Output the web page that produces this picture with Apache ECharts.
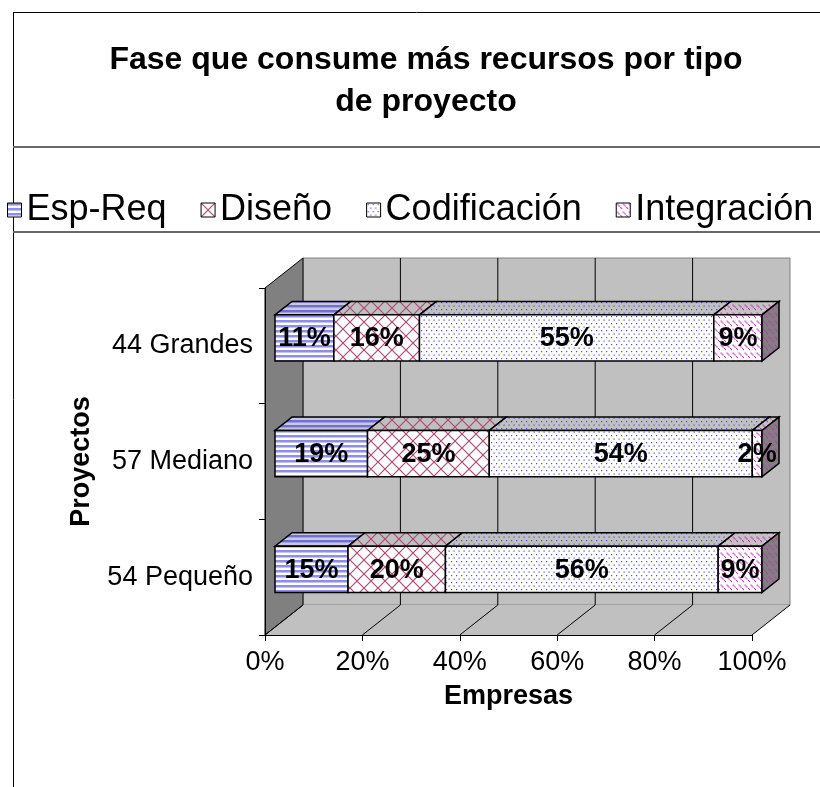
<!DOCTYPE html>
<html lang="es">
<head>
<meta charset="UTF-8">
<title>Fase que consume más recursos por tipo de proyecto</title>
<script src="https://cdn.jsdelivr.net/npm/echarts@6/dist/echarts.min.js"></script>
<style>
    html, body { margin: 0; padding: 0; background: #fff; }
    #chart { width: 820px; height: 787px; }
</style>
</head>
<body>
<div id="chart"></div>
<script>
// datos (orden de abajo hacia arriba)
var categories = ['54 Pequeño', '57 Mediano', '44 Grandes'];
var phases = ['Esp-Req', 'Diseño', 'Codificación', 'Integración'];
var espReq = [15, 19, 11];
var diseno = [20, 25, 16];
var codificacion = [56, 54, 55];
var integracion = [9, 2, 9];
var xTicks = [0, 20, 40, 60, 80, 100];

var FONT = '"Liberation Sans", Arial, sans-serif';
// profundidad 3D (px) y posicion de la barra dentro de ella
var DX = 38, DY = -30;
var BAR_FRONT = 10 / 38, BAR_BACK = 27 / 38;
var BAR_RATIO = 0.4;

function pattern(w, h, bg, draw) {
    var c = document.createElement('canvas');
    c.width = w; c.height = h;
    var ctx = c.getContext('2d');
    ctx.fillStyle = bg;
    ctx.fillRect(0, 0, w, h);
    draw(ctx, w, h);
    return { image: c, repeat: 'repeat' };
}

function stripes(col, col2) {
    return function (ctx, w) {
        ctx.fillStyle = col; ctx.fillRect(0, 0, w, 2);
        ctx.fillStyle = col2; ctx.fillRect(0, 2, w, 1);
    };
}
function lattice(col) {
    return function (ctx, w, h) {
        ctx.strokeStyle = col; ctx.lineWidth = 1.2;
        ctx.beginPath();
        ctx.moveTo(-1, -1); ctx.lineTo(w + 1, h + 1);
        ctx.moveTo(w + 1, -1); ctx.lineTo(-1, h + 1);
        ctx.stroke();
    };
}
function dots(col) {
    return function (ctx) {
        ctx.fillStyle = col;
        [[1, 1], [6, 1], [3.5, 4.5], [8.5, 4.5]].forEach(function (p) { ctx.fillRect(p[0], p[1], 1.2, 1.2); });
    };
}
function dashes(col) {
    return function (ctx) {
        ctx.fillStyle = col;
        for (var i = 0; i < 3; i++) {
            ctx.fillRect(i + 0.5, i + 0.5, 1.2, 1.2);
            ctx.fillRect(4 + i, i + 4, 1.2, 1.2);
        }
    };
}

var fills = [
    { front: pattern(4, 5, '#ffffff', stripes('#8e8ee8', '#c2c2f5')),
      top: pattern(4, 5, '#c8c8e0', stripes('#7070d0', '#a0a0e0')),
      side: pattern(4, 5, '#808080', stripes('#6060b0', '#8080c0')) },
    { front: pattern(14, 14, '#ffffff', lattice('#ad4a76')),
      top: pattern(14, 14, '#c0c0c0', lattice('#ad4a76')),
      side: pattern(14, 14, '#808080', lattice('#ad4a76')) },
    { front: pattern(10, 7, '#ffffff', dots('#5050c8')),
      top: pattern(10, 7, '#c0c0c0', dots('#5050c8')),
      side: pattern(10, 7, '#808080', dots('#5050c8')) },
    { front: pattern(6, 8, '#ffffff', dashes('#b23cb2')),
      top: pattern(6, 8, '#c4c4c4', dashes('#b23cb2')),
      side: pattern(6, 8, '#808080', dashes('#b23cb2')) }
];

// apilado al 100%
var raw = [espReq, diseno, codificacion, integracion];
var totals = categories.map(function (c, i) {
    return raw.reduce(function (s, arr) { return s + arr[i]; }, 0);
});
var stacked = raw.map(function () { return []; });
categories.forEach(function (c, i) {
    var acc = 0;
    raw.forEach(function (arr, k) {
        var start = acc;
        acc += arr[i] / totals[i] * 100;
        stacked[k].push([start, acc, i, arr[i]]);
    });
});

function barRenderer(k) {
    return function (params, api) {
        var cat = api.value(2);
        var a = api.coord([api.value(0), cat]);
        var b = api.coord([api.value(1), cat]);
        var h = api.size([0, 1])[1] * BAR_RATIO;
        var fx = DX * BAR_FRONT, fy = DY * BAR_FRONT;
        var ox = DX * (BAR_BACK - BAR_FRONT), oy = DY * (BAR_BACK - BAR_FRONT);
        var x0 = a[0] + fx, x1 = b[0] + fx;
        var yt = a[1] + fy - h / 2, yb = yt + h;
        var stroke = { stroke: '#000', lineWidth: 1.5 };
        var children = [
            { type: 'polygon', shape: { points: [[x0, yt], [x1, yt], [x1 + ox, yt + oy], [x0 + ox, yt + oy]] },
              style: Object.assign({ fill: fills[k].top }, stroke) },
            { type: 'rect', shape: { x: x0, y: yt, width: x1 - x0, height: h },
              style: Object.assign({ fill: fills[k].front }, stroke) }
        ];
        if (api.value(1) > 99.99) {
            children.push({ type: 'polygon',
                shape: { points: [[x1, yt], [x1 + ox, yt + oy], [x1 + ox, yb + oy], [x1, yb]] },
                style: Object.assign({ fill: fills[k].side }, stroke) });
        }
        children.push({ type: 'text', style: {
            text: api.value(3) + '%', x: (x0 + x1) / 2, y: (yt + yb) / 2 + 1,
            align: 'center', verticalAlign: 'middle',
            font: 'bold 27px ' + FONT, fill: '#000' } });
        return { type: 'group', children: children };
    };
}

function renderWalls(params, api) {
    var cs = params.coordSys;
    var L = cs.x, T = cs.y, R = cs.x + cs.width, B = cs.y + cs.height;
    var children = [
        { type: 'rect', shape: { x: L + DX, y: T + DY, width: cs.width, height: cs.height },
          style: { fill: '#c0c0c0', stroke: '#808080', lineWidth: 1 } },
        { type: 'polygon', shape: { points: [[L, B], [L + DX, B + DY], [R + DX, B + DY], [R, B]] },
          style: { fill: '#c0c0c0' } },
        { type: 'polygon', shape: { points: [[L, T], [L + DX, T + DY], [L + DX, B + DY], [L, B]] },
          style: { fill: '#808080', stroke: '#000', lineWidth: 1 } }
    ];
    xTicks.forEach(function (t) {
        var x = api.coord([t, 0])[0];
        if (t > 0 && t < 100) {
            children.push({ type: 'line', shape: { x1: x + DX, y1: T + DY, x2: x + DX, y2: B + DY },
                style: { stroke: '#000', lineWidth: 1 } });
        }
        children.push({ type: 'line', shape: { x1: x, y1: B, x2: x + DX, y2: B + DY },
            style: { stroke: '#000', lineWidth: 1 } });
    });
    return { type: 'group', children: children };
}

var series = [{
    type: 'custom', name: 'walls', z: 1, silent: true,
    renderItem: renderWalls, data: [[0, 0]]
}];
phases.forEach(function (p, k) {
    series.push({
        type: 'custom', name: p, z: 3,
        itemStyle: { color: fills[k].front },
        encode: { x: [0, 1], y: 2 },
        renderItem: barRenderer(k),
        data: stacked[k]
    });
});

var chart = echarts.init(document.getElementById('chart'));
chart.setOption({
    animation: false,
    textStyle: { fontFamily: FONT },
    title: {
        text: 'Fase que consume más recursos por tipo\nde proyecto',
        left: 421, top: 34, textAlign: 'center',
        textStyle: { fontSize: 32, fontWeight: 'bold', color: '#000', lineHeight: 42, fontFamily: FONT }
    },
    legend: {
        data: phases.map(function (p, k) {
            return { name: p, icon: 'rect', itemStyle: { color: fills[k].front, borderColor: '#000', borderWidth: 1 } };
        }),
        left: 2, top: 187, itemWidth: 14, itemHeight: 14, itemGap: 34,
        textStyle: { fontSize: 36, color: '#000', fontFamily: FONT }
    },
    grid: { left: 265, top: 288, width: 487, height: 347 },
    xAxis: {
        type: 'value', min: 0, max: 100, interval: 20, z: 10,
        axisLine: { show: true, lineStyle: { color: '#000', width: 1 } },
        axisTick: { show: true, length: 6, lineStyle: { color: '#000' } },
        axisLabel: { formatter: '{value}%', fontSize: 27, color: '#000', margin: 14 },
        splitLine: { show: false },
        name: 'Empresas', nameLocation: 'middle', nameGap: 48,
        nameTextStyle: { fontSize: 27, fontWeight: 'bold', color: '#000' }
    },
    yAxis: {
        type: 'category', data: categories, z: 10,
        axisLine: { show: true, lineStyle: { color: '#000', width: 1 } },
        axisTick: { show: true, length: 6, lineStyle: { color: '#000' } },
        axisLabel: { fontSize: 27, color: '#000', margin: 12 },
        name: 'Proyectos', nameLocation: 'middle', nameGap: 170, nameRotate: 90,
        nameTextStyle: { fontSize: 27, fontWeight: 'bold', color: '#000' }
    },
    graphic: [
        { type: 'line', shape: { x1: 13.5, y1: 12, x2: 13.5, y2: 787 }, style: { stroke: '#000', lineWidth: 1 } },
        { type: 'line', shape: { x1: 13, y1: 12.5, x2: 820, y2: 12.5 }, style: { stroke: '#000', lineWidth: 1 } },
        { type: 'line', shape: { x1: 13, y1: 147, x2: 820, y2: 147 }, style: { stroke: '#6a6a6a', lineWidth: 2 } },
        { type: 'line', shape: { x1: 13, y1: 232, x2: 820, y2: 232 }, style: { stroke: '#6a6a6a', lineWidth: 2 } }
    ],
    series: series
});
</script>
</body>
</html>
